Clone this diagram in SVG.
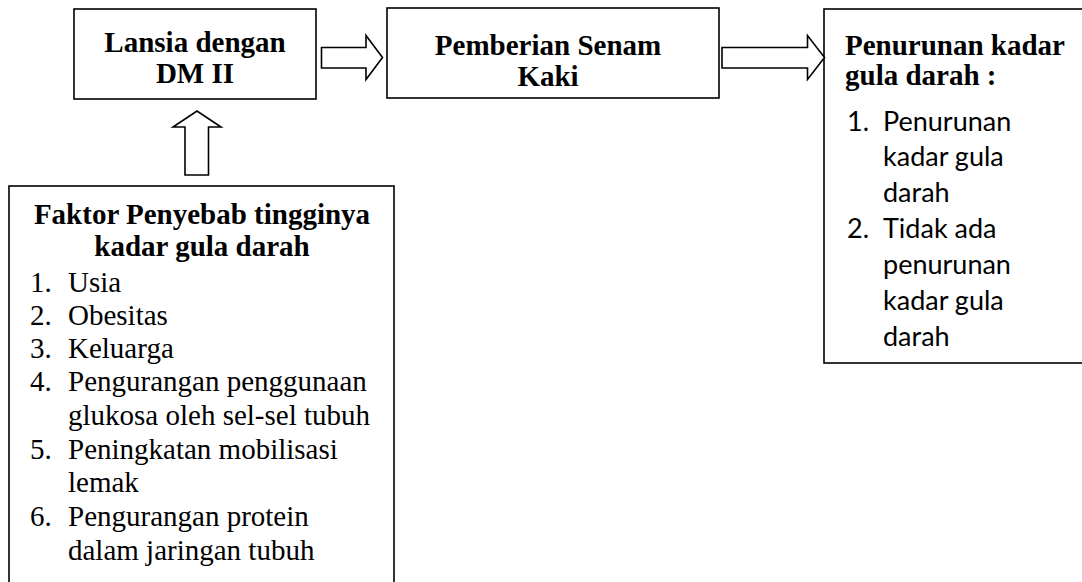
<svg xmlns="http://www.w3.org/2000/svg" width="1082" height="582" viewBox="0 0 1082 582">
<style>
.box{fill:#fff;stroke:#000;stroke-width:1.6}
.arr{fill:#fff;stroke:#000;stroke-width:1.6;stroke-linejoin:miter}
.tb{font-family:"Liberation Serif","Times New Roman",serif;font-weight:bold;font-size:29px;fill:#000}
.tr{font-family:"Liberation Serif","Times New Roman",serif;font-size:29px;fill:#000}
.sa{font-family:Lato,"Open Sans",sans-serif;font-size:27px;fill:#000}
</style>
<rect width="1082" height="582" fill="#fff"/>
<g id="node-lansia">
<rect class="box" x="74" y="9" width="242" height="90"/>
<text class="tb" text-anchor="middle" x="195" y="52">Lansia dengan</text>
<text class="tb" text-anchor="middle" x="195" y="83">DM II</text>
</g>
<g id="node-senam">
<rect class="box" x="387" y="8" width="332" height="90"/>
<text class="tb" text-anchor="middle" x="548" y="55">Pemberian Senam</text>
<text class="tb" text-anchor="middle" x="548" y="86">Kaki</text>
</g>
<g id="node-penurunan">
<rect class="box" x="824" y="9" width="270" height="354"/>
<text class="tb" x="845" y="55">Penurunan kadar</text>
<text class="tb" x="845" y="85">gula darah :</text>
<text class="sa" x="847" y="131">1.</text>
<text class="sa" x="883" y="131">Penurunan</text>
<text class="sa" x="883" y="166">kadar gula</text>
<text class="sa" x="883" y="202">darah</text>
<text class="sa" x="847" y="238">2.</text>
<text class="sa" x="883" y="238">Tidak ada</text>
<text class="sa" x="883" y="274">penurunan</text>
<text class="sa" x="883" y="310">kadar gula</text>
<text class="sa" x="883" y="346">darah</text>
</g>
<g id="node-faktor">
<rect class="box" x="9" y="186" width="385" height="410"/>
<text class="tb" text-anchor="middle" x="202" y="224">Faktor Penyebab tingginya</text>
<text class="tb" text-anchor="middle" x="202" y="256">kadar gula darah</text>
<text class="tr" x="30" y="292">1.</text>
<text class="tr" x="68" y="292">Usia</text>
<text class="tr" x="30" y="325">2.</text>
<text class="tr" x="68" y="325">Obesitas</text>
<text class="tr" x="30" y="358">3.</text>
<text class="tr" x="68" y="358">Keluarga</text>
<text class="tr" x="30" y="391">4.</text>
<text class="tr" x="68" y="391">Pengurangan penggunaan</text>
<text class="tr" x="68" y="425">glukosa oleh sel-sel tubuh</text>
<text class="tr" x="30" y="459">5.</text>
<text class="tr" x="68" y="459">Peningkatan mobilisasi</text>
<text class="tr" x="68" y="492">lemak</text>
<text class="tr" x="30" y="526">6.</text>
<text class="tr" x="68" y="526">Pengurangan protein</text>
<text class="tr" x="68" y="560">dalam jaringan tubuh</text>
</g>
<g id="connectors">
<path class="arr" d="M321.5,47.5 H366 V35.5 L382.5,57.5 L366,79.5 V68 H321.5 Z"/>
<path class="arr" d="M722,47.5 H807.5 V35.5 L824.5,57.5 L807.5,79.5 V68 H722 Z"/>
<path class="arr" d="M185,175 V127 H173 L197,111 L221,127 H208.5 V175 Z"/>
</g>
</svg>
